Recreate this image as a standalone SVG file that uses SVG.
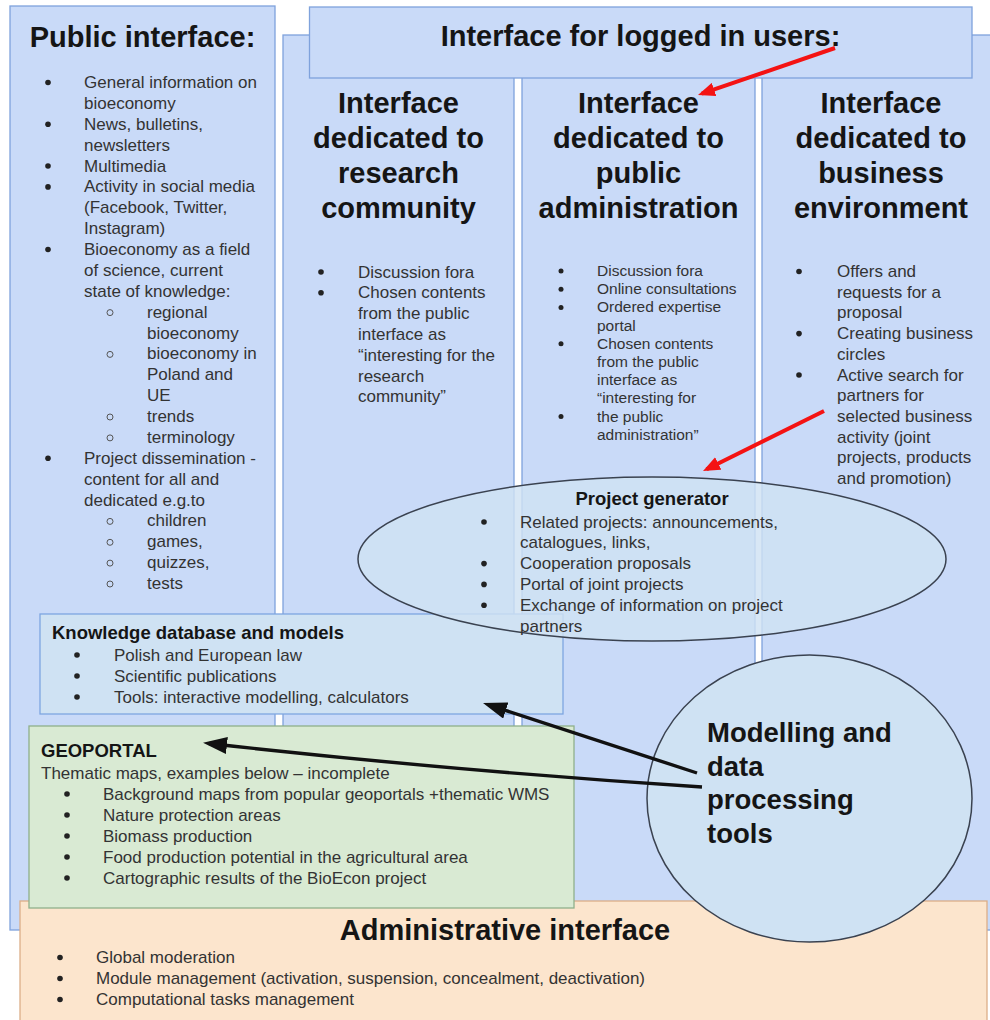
<svg xmlns="http://www.w3.org/2000/svg" width="990" height="1020" viewBox="0 0 990 1020">
<style>
.bluebox{fill:#c9daf8;stroke:#7fa2dc;stroke-width:1.3}
.lightbox{fill:#cfe2f3;stroke:#7ea6e0;stroke-width:1.3}
.greenbox{fill:#d9ead3;stroke:#8fb08a;stroke-width:1.3}
.orangebox{fill:#fce5cd;stroke:#dcae88;stroke-width:1.3}
.oval{fill:#cfe2f3;stroke:#3a4250;stroke-width:1.5}
text{font-family:"Liberation Sans",Arial,Helvetica,sans-serif}
.title{font-size:29px;font-weight:bold;fill:#151515;text-anchor:middle}
.sub{font-size:18.5px;font-weight:bold;fill:#151515}
.li{font-size:17px;fill:#333}
.ls{font-size:15.5px;fill:#333}
.model{font-size:27.5px;font-weight:bold;fill:#151515}
.dot{fill:#222}
.ring{fill:none;stroke:#555;stroke-width:1}
.red{stroke:#f41313;stroke-width:4;fill:none}
.blk{stroke:#111;stroke-width:3.4;fill:none}
</style>
<defs>
<marker id="redhead" markerUnits="userSpaceOnUse" markerWidth="17" markerHeight="14" viewBox="0 0 17 14" refX="13" refY="7" orient="auto"><path d="M0,0 L17,7 L0,14 Z" fill="#f41313"/></marker>
<marker id="blkhead" markerUnits="userSpaceOnUse" markerWidth="24" markerHeight="17" viewBox="0 0 24 17" refX="18" refY="8.5" orient="auto"><path d="M0,0 L24,8.5 L0,17 Z" fill="#111"/></marker>
</defs>

<g id="public-interface">
<rect class="bluebox" x="10" y="6" width="265" height="924"/>
<text class="title" x="142.5" y="47">Public interface:</text>
<circle class="dot" cx="48" cy="82.5" r="2.8"/><text class="li" x="84" y="88">General information on</text>
<text class="li" x="84" y="108.9">bioeconomy</text>
<circle class="dot" cx="48" cy="124.3" r="2.8"/><text class="li" x="84" y="129.8">News, bulletins,</text>
<text class="li" x="84" y="150.6">newsletters</text>
<circle class="dot" cx="48" cy="166" r="2.8"/><text class="li" x="84" y="171.5">Multimedia</text>
<circle class="dot" cx="48" cy="186.9" r="2.8"/><text class="li" x="84" y="192.4">Activity in social media</text>
<text class="li" x="84" y="213.3">(Facebook, Twitter,</text>
<text class="li" x="84" y="234.1">Instagram)</text>
<circle class="dot" cx="48" cy="249.5" r="2.8"/><text class="li" x="84" y="255">Bioeconomy as a field</text>
<text class="li" x="84" y="275.9">of science, current</text>
<text class="li" x="84" y="296.8">state of knowledge:</text>
<circle class="ring" cx="110" cy="312.6" r="3"/><text class="li" x="147" y="317.6">regional</text>
<text class="li" x="147" y="338.5">bioeconomy</text>
<circle class="ring" cx="110" cy="354.4" r="3"/><text class="li" x="147" y="359.4">bioeconomy in</text>
<text class="li" x="147" y="380.3">Poland and</text>
<text class="li" x="147" y="401.1">UE</text>
<circle class="ring" cx="110" cy="417" r="3"/><text class="li" x="147" y="422">trends</text>
<circle class="ring" cx="110" cy="437.9" r="3"/><text class="li" x="147" y="442.9">terminology</text>
<circle class="dot" cx="48" cy="458.3" r="2.8"/><text class="li" x="84" y="463.8">Project dissemination -</text>
<text class="li" x="84" y="484.6">content for all and</text>
<text class="li" x="84" y="505.5">dedicated e.g.to</text>
<circle class="ring" cx="110" cy="521.4" r="3"/><text class="li" x="147" y="526.4">children</text>
<circle class="ring" cx="110" cy="542.3" r="3"/><text class="li" x="147" y="547.3">games,</text>
<circle class="ring" cx="110" cy="563.1" r="3"/><text class="li" x="147" y="568.1">quizzes,</text>
<circle class="ring" cx="110" cy="584" r="3"/><text class="li" x="147" y="589">tests</text>
</g>

<g id="research-community">
<rect class="bluebox" x="283" y="35" width="231" height="895"/>
<text class="title" x="398.5" y="113">Interface</text>
<text class="title" x="398.5" y="148">dedicated to</text>
<text class="title" x="398.5" y="183">research</text>
<text class="title" x="398.5" y="218">community</text>
<circle class="dot" cx="321" cy="272" r="2.8"/><text class="li" x="358" y="277.5">Discussion fora</text>
<circle class="dot" cx="321" cy="292.8" r="2.8"/><text class="li" x="358" y="298.3">Chosen contents</text>
<text class="li" x="358" y="319.1">from the public</text>
<text class="li" x="358" y="339.9">interface as</text>
<text class="li" x="358" y="360.7">“interesting for the</text>
<text class="li" x="358" y="381.5">research</text>
<text class="li" x="358" y="402.3">community”</text>
</g>

<g id="public-administration">
<rect class="bluebox" x="522" y="35" width="233" height="895"/>
<text class="title" x="638.5" y="113">Interface</text>
<text class="title" x="638.5" y="148">dedicated to</text>
<text class="title" x="638.5" y="183">public</text>
<text class="title" x="638.5" y="218">administration</text>
<circle class="dot" cx="561" cy="271" r="2.5"/><text class="ls" x="597" y="276">Discussion fora</text>
<circle class="dot" cx="561" cy="289.2" r="2.5"/><text class="ls" x="597" y="294.2">Online consultations</text>
<circle class="dot" cx="561" cy="307.4" r="2.5"/><text class="ls" x="597" y="312.4">Ordered expertise</text>
<text class="ls" x="597" y="330.6">portal</text>
<circle class="dot" cx="561" cy="343.8" r="2.5"/><text class="ls" x="597" y="348.8">Chosen contents</text>
<text class="ls" x="597" y="367">from the public</text>
<text class="ls" x="597" y="385.2">interface as</text>
<text class="ls" x="597" y="403.4">“interesting for</text>
<circle class="dot" cx="561" cy="416.6" r="2.5"/><text class="ls" x="597" y="421.6">the public</text>
<text class="ls" x="597" y="439.8">administration”</text>
</g>

<g id="business-environment">
<rect class="bluebox" x="762" y="35" width="240" height="895"/>
<text class="title" x="881" y="113">Interface</text>
<text class="title" x="881" y="148">dedicated to</text>
<text class="title" x="881" y="183">business</text>
<text class="title" x="881" y="218">environment</text>
<circle class="dot" cx="799" cy="271.5" r="2.8"/><text class="li" x="837" y="277">Offers and</text>
<text class="li" x="837" y="297.7">requests for a</text>
<text class="li" x="837" y="318.4">proposal</text>
<circle class="dot" cx="799" cy="333.6" r="2.8"/><text class="li" x="837" y="339.1">Creating business</text>
<text class="li" x="837" y="359.8">circles</text>
<circle class="dot" cx="799" cy="375" r="2.8"/><text class="li" x="837" y="380.5">Active search for</text>
<text class="li" x="837" y="401.2">partners for</text>
<text class="li" x="837" y="421.9">selected business</text>
<text class="li" x="837" y="442.6">activity (joint</text>
<text class="li" x="837" y="463.3">projects, products</text>
<text class="li" x="837" y="484">and promotion)</text>
</g>

<g id="logged-in-users">
<rect class="bluebox" x="309.5" y="7" width="662.5" height="71"/>
<text class="title" x="640.5" y="46">Interface for logged in users:</text>
</g>

<g id="knowledge-database">
<rect class="lightbox" x="40" y="614" width="523" height="100"/>
<text class="sub" x="52" y="639">Knowledge database and models</text>
<circle class="dot" cx="77" cy="655" r="2.8"/><text class="li" x="114" y="660.5">Polish and European law</text>
<circle class="dot" cx="77" cy="676" r="2.8"/><text class="li" x="114" y="681.5">Scientific publications</text>
<circle class="dot" cx="77" cy="697" r="2.8"/><text class="li" x="114" y="702.5">Tools: interactive modelling, calculators</text>
</g>

<g id="project-generator">
<ellipse class="oval" cx="652" cy="559" rx="294" ry="82" fill-opacity="0.82"/>
<text class="sub" x="652" y="505" text-anchor="middle">Project generator</text>
<circle class="dot" cx="484" cy="522" r="2.8"/><text class="li" x="520" y="527.5">Related projects: announcements,</text>
<text class="li" x="520" y="548.3">catalogues, links,</text>
<circle class="dot" cx="484" cy="563.6" r="2.8"/><text class="li" x="520" y="569.1">Cooperation proposals</text>
<circle class="dot" cx="484" cy="584.4" r="2.8"/><text class="li" x="520" y="589.9">Portal of joint projects</text>
<circle class="dot" cx="484" cy="605.2" r="2.8"/><text class="li" x="520" y="610.7">Exchange of information on project</text>
<text class="li" x="520" y="631.5">partners</text>
</g>

<g id="administrative-interface">
<rect class="orangebox" x="20" y="901" width="967" height="130"/>
<text class="title" x="505" y="940">Administrative interface</text>
<circle class="dot" cx="60" cy="957.5" r="2.8"/><text class="li" x="96" y="963">Global moderation</text>
<circle class="dot" cx="60" cy="978.5" r="2.8"/><text class="li" x="96" y="984">Module management (activation, suspension, concealment, deactivation)</text>
<circle class="dot" cx="60" cy="999.5" r="2.8"/><text class="li" x="96" y="1005">Computational tasks management</text>
</g>

<g id="geoportal">
<rect class="greenbox" x="29" y="726" width="545" height="182"/>
<text class="sub" x="41" y="757">GEOPORTAL</text>
<text class="li" x="41" y="778.5">Thematic maps, examples below – incomplete</text>
<circle class="dot" cx="67" cy="794" r="2.8"/><text class="li" x="103" y="799.5">Background maps from popular geoportals +thematic WMS</text>
<circle class="dot" cx="67" cy="815" r="2.8"/><text class="li" x="103" y="820.5">Nature protection areas</text>
<circle class="dot" cx="67" cy="836" r="2.8"/><text class="li" x="103" y="841.5">Biomass production</text>
<circle class="dot" cx="67" cy="857" r="2.8"/><text class="li" x="103" y="862.5">Food production potential in the agricultural area</text>
<circle class="dot" cx="67" cy="878" r="2.8"/><text class="li" x="103" y="883.5">Cartographic results of the BioEcon project</text>
</g>

<g id="modelling-tools">
<ellipse class="oval" cx="809.5" cy="798.5" rx="162.5" ry="143.5"/>
<text class="model" x="707" y="742">Modelling and</text>
<text class="model" x="707" y="775.5">data</text>
<text class="model" x="707" y="809">processing</text>
<text class="model" x="707" y="842.5">tools</text>
</g>

<g id="connectors">
<line class="red" x1="835" y1="48" x2="701.8" y2="93.7" marker-end="url(#redhead)"/>
<line class="red" x1="824" y1="411" x2="706.6" y2="469.2" marker-end="url(#redhead)"/>
<line class="blk" x1="697" y1="773" x2="488.7" y2="704.9" marker-end="url(#blkhead)"/>
<path class="blk" d="M702,787 Q455,771 209,743.5" marker-end="url(#blkhead)"/>
</g>
</svg>
